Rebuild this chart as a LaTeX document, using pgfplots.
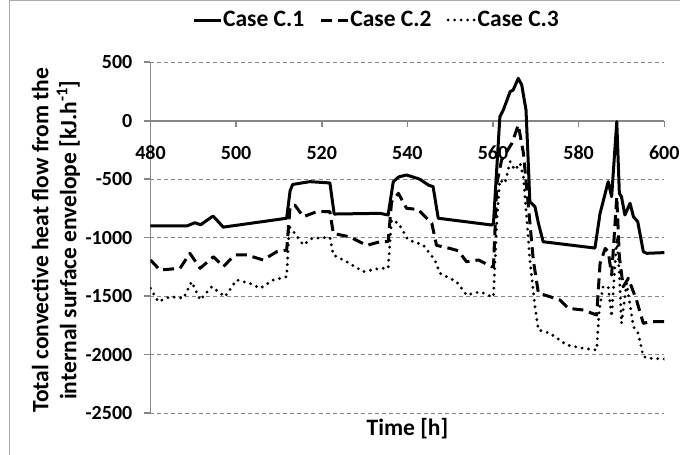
\documentclass[border=0pt]{standalone}
\usepackage{fontspec}
\setmainfont{Carlito}
\usepackage{pgfplots}
\pgfplotsset{compat=1.18}
\definecolor{axgray}{RGB}{134,134,134}
\definecolor{framegray}{RGB}{170,170,170}
\begin{document}
\begin{tikzpicture}
\useasboundingbox (-150.5pt,-42pt) rectangle (529.5pt,413pt);
\draw[framegray, line width=1pt] (-140.5pt,-60pt) -- (-140.5pt,412pt) -- (560pt,412pt);
\begin{axis}[
  scale only axis, width=513.8pt, height=350.7pt,
  xmin=480, xmax=600, ymin=-2500, ymax=500,
  axis x line=middle, axis y line=left,
  hide obscured x ticks=false, hide obscured y ticks=false,
  axis line style={-, axgray, line width=1.6pt},
  xtick={480,500,520,540,560,580,600},
  xticklabels={480,500,520,540,560,580,600},
  ytick={-2500,-2000,-1500,-1000,-500,0,500},
  yticklabels={-2500,-2000,-1500,-1000,-500,0,500},
  tick align=outside, major tick length=6pt,
  tick style={axgray, line width=1.6pt},
  minor tick num=0,
  ymajorgrids, grid style={axgray, line width=0.9pt, dash pattern=on 4pt off 3pt},
  ticklabel style={font=\bfseries\fontsize{20}{24}\selectfont},
  xticklabel style={anchor=center, yshift=-26pt},
  yticklabel style={anchor=east, inner sep=0pt, xshift=-12pt},
  every axis x label/.style={at={(axis description cs:0.5,-0.046)}, anchor=center, font=\bfseries\fontsize{23.5}{28}\selectfont},
  every axis y label/.style={at={(axis description cs:-0.184,0.493)}, rotate=90, anchor=center, align=center, font=\bfseries\fontsize{23.5}{28}\selectfont},
  xlabel={Time [h]},
  ylabel={Total convective heat flow from the\\internal surface envelope [kJ.h\textsuperscript{-1}]},
  legend columns=3,
  legend style={at={(0.439,1.1206)}, anchor=center, draw=none, fill=none,
    font=\bfseries\fontsize{23.5}{28}\selectfont,
    /tikz/every even column/.append style={column sep=14pt},
    nodes={inner sep=1pt}},
  legend image code/.code={\draw[#1] (0pt,0pt) -- (27pt,0pt);},
]
\addplot[black, line width=3pt, line join=round] coordinates {
(480,-900) (488.5,-900) (490.4,-872) (491.7,-890) (494.6,-815) (497,-910)
(511.8,-834) (512.6,-600) (513.2,-545) (517.2,-521) (521.9,-532) (522.9,-798)
(533.6,-792) (535.5,-806) (536.7,-521) (538,-480) (539.8,-464) (542.9,-500)
(544.9,-550) (546,-564) (547.2,-834) (559.7,-892) (560.1,-877) (561.6,35)
(562.4,92) (564,249) (564.7,263) (565.9,363) (566.7,306) (567.7,92)
(568.2,-336) (568.6,-693) (569.8,-736) (570.6,-877) (571.7,-1035) (583.8,-1089)
(585,-792) (586.9,-521) (587.7,-650) (588.9,-8) (589.5,-620) (590,-650)
(590.8,-806) (592,-706) (592.8,-821) (593.8,-864) (595.1,-1120) (595.9,-1134)
(600,-1128)
};
\addlegendentry{Case C.1}
\addplot[black, line width=3pt, dash pattern=on 11pt off 6pt, line join=round] coordinates {
(480,-1191) (482.2,-1277) (486.9,-1262) (489.2,-1134) (491.6,-1262) (494.7,-1163)
(497,-1248) (499.7,-1148) (502.5,-1148) (506.3,-1191) (509.5,-1120) (511.8,-1106)
(512.6,-736) (513.7,-721) (515.7,-821) (518.8,-778) (521.9,-778) (522.7,-964)
(526.6,-994) (530.5,-1066) (533.6,-1035) (535.5,-1035) (536.3,-693) (537.9,-621)
(539.8,-749) (542.5,-759) (545.7,-877) (546.8,-1066) (549.9,-1092) (551.9,-1112)
(553.8,-1206) (556.6,-1191) (559.7,-1248) (560.1,-1248) (560.9,-535) (562,-336)
(564.4,-193) (565.9,-36) (567.1,-278) (568.2,-706) (569.4,-1191) (570.6,-1476)
(572.1,-1491) (575.6,-1533) (577.6,-1605) (581.1,-1619) (584.2,-1662) (585,-1220)
(586.2,-1092) (586.9,-1120) (587.7,-1320) (588.9,-650) (589.5,-1163) (590.4,-1420)
(591.6,-1348) (593.5,-1533) (595.1,-1733) (596.7,-1719) (600,-1719)
};
\addlegendentry{Case C.2}
\addplot[black, line width=3.2pt, dash pattern=on 0pt off 6.5pt, line cap=round, line join=round] coordinates {
(480,-1433) (481.8,-1548) (484.6,-1505) (487.7,-1519) (489.6,-1377) (491.6,-1533)
(494.3,-1420) (497.4,-1505) (500.1,-1362) (503.2,-1391) (505.6,-1433) (508.7,-1362)
(511.8,-1334) (512.4,-906) (513.4,-949) (515.7,-1063) (517.7,-1006) (521.9,-998)
(522.7,-1148) (525.8,-1206) (529.7,-1291) (533.6,-1262) (535.5,-1262) (536.3,-849)
(537.9,-877) (540.2,-1020) (543.7,-1063) (546.4,-1191) (547.6,-1305) (551.5,-1377)
(553.8,-1491) (557,-1463) (559.7,-1505) (560.1,-1505) (560.9,-849) (561.6,-507)
(562.8,-535) (564,-350) (565.1,-421) (566.3,-364) (567.1,-478) (567.9,-849)
(568.6,-1191) (569.8,-1591) (570.6,-1790) (573.3,-1818) (577.2,-1918) (581.1,-1947)
(584.2,-1961) (584.8,-1619) (585.7,-1420) (586.9,-1420) (587.7,-1676) (588.9,-1000)
(589.5,-1300) (590,-1733) (591.2,-1391) (592.8,-1762) (593.9,-1818) (595.1,-2018)
(596.7,-2032) (600,-2038)
};
\addlegendentry{Case C.3}
\end{axis}
\end{tikzpicture}
\end{document}
